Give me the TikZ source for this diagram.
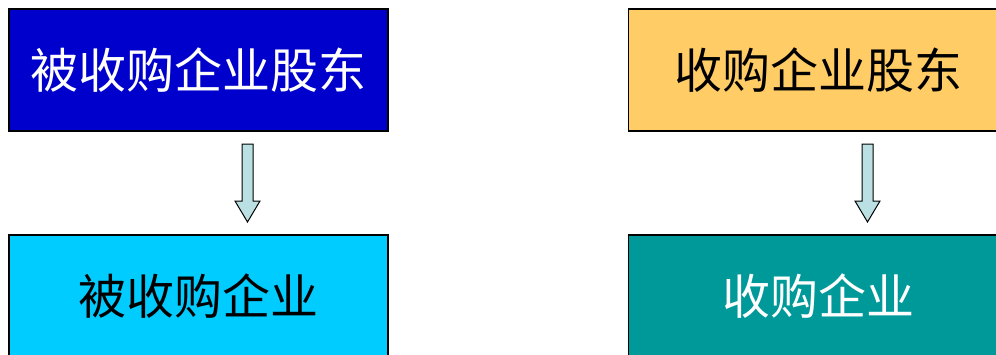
\documentclass[tikz,border=0pt]{standalone}
\usepackage{fontspec}
\newfontfamily\cjk{Noto Sans CJK SC}
\definecolor{boxblue}{HTML}{0000CC}
\definecolor{boxcyan}{HTML}{00CCFF}
\definecolor{boxgold}{HTML}{FFCC66}
\definecolor{boxteal}{HTML}{009999}
\definecolor{arrowfill}{HTML}{BBE0E3}
\tikzset{
  box/.style={draw=black, line width=1.3pt, minimum width=379pt, minimum height=122pt, inner sep=0pt, font=\cjk\fontsize{48}{52}\selectfont},
  blockarrow/.style={draw=black, line width=1pt, fill=arrowfill, line join=miter}
}
\begin{document}
\begin{tikzpicture}[x=1pt,y=-1pt]
\useasboundingbox (0,0) rectangle (996,354);
\clip (0,0) rectangle (996,354);
\fill[white] (0,0) rectangle (996,354);
\node[box, fill=boxblue, text=white] (ts) at (198.5,70) {被收购企业股东};
\node[box, fill=boxcyan, text=black] (tc) at (198.5,296) {被收购企业};
\node[box, fill=boxgold, text=black] (as) at (818,70) {收购企业股东};
\node[box, fill=boxteal, text=white] (ac) at (818,296) {收购企业};
\coordinate (la) at (247.5,144);
\coordinate (ra) at (867.5,144);
\foreach \c in {la,ra}{
  \draw[blockarrow] (\c) ++(-5.5,0) -- ++(11,0) -- ++(0,57) -- ++(7,0) -- ++(-12.5,21) -- ++(-12.5,-21) -- ++(7,0) -- cycle;
}
\end{tikzpicture}
\end{document}
